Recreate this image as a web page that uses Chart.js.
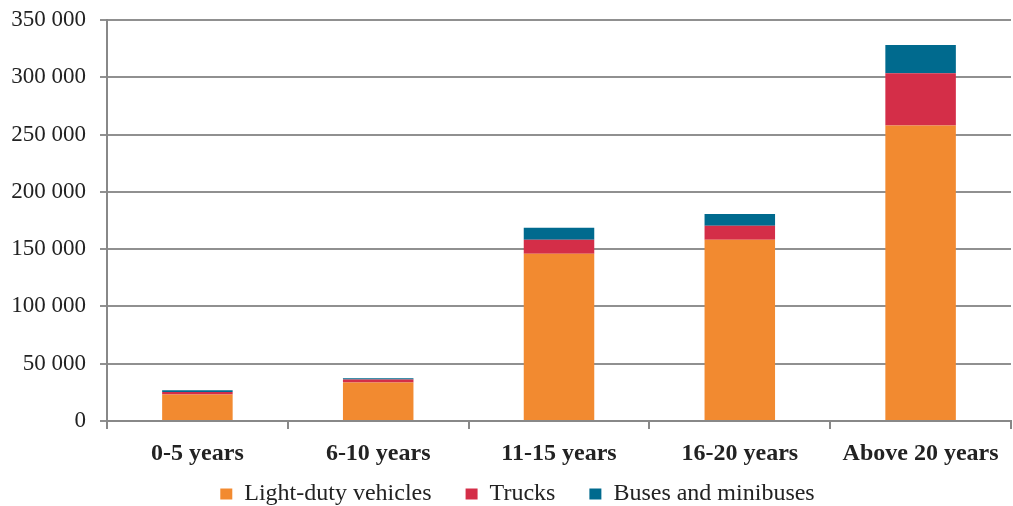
<!DOCTYPE html>
<html>
<head>
<meta charset="utf-8">
<script src="https://cdn.jsdelivr.net/npm/chart.js@4/dist/chart.umd.min.js"></script>
<style>
  html, body { margin: 0; padding: 0; background: #fff; }
  #wrap { width: 1013px; height: 506px; }
</style>
</head>
<body>
<div id="wrap"><canvas id="grafik"></canvas></div>
<script>
// Kategori umur kendaraan dan nilai tiap seri
var kategori = ["0-5 years", "6-10 years", "11-15 years", "16-20 years", "Above 20 years"];
var light_duty = [23100, 33600, 145900, 158100, 257900];
var trucks = [2300, 2600, 12200, 12300, 45700];
var buses = [1500, 1200, 10500, 10200, 24500];
var tick_y = [0, 50000, 100000, 150000, 200000, 250000, 300000, 350000];

var fontSerif = "'Liberation Serif', 'Times New Roman', serif";

// Legenda dibuat pendek lalu digeser, supaya label sumbu x tidak terpotong
const geserLegenda = {
  id: "geserLegenda",
  beforeInit: function (chart) {
    const lg = chart.legend;
    const fitAsli = lg.fit;
    lg.fit = function () {
      fitAsli.call(this);
      this.height = 35;
    };
  },
  afterLayout: function (chart) {
    const lg = chart.legend;
    lg.top = 448;
    lg.bottom = 506;
    lg.left += 12;
    lg.right += 12;
  },
};

const data = {
  labels: kategori,
  datasets: [
    { label: "Light-duty vehicles", data: light_duty, backgroundColor: "#F28A30" },
    { label: "Trucks", data: trucks, backgroundColor: "#D42E48" },
    { label: "Buses and minibuses", data: buses, backgroundColor: "#006A8E" },
  ],
};

const config = {
  type: "bar",
  data: data,
  plugins: [geserLegenda],
  options: {
    responsive: true,
    maintainAspectRatio: false,
    animation: false,
    layout: { padding: { top: 20, right: 2, left: 0, bottom: 0 } },
    datasets: { bar: { barPercentage: 0.78, categoryPercentage: 0.5 } },
    plugins: {
      tooltip: { enabled: false },
      legend: {
        position: "bottom",
        labels: {
          boxWidth: 12,
          boxHeight: 11,
          padding: 34,
          color: "#222",
          font: { family: fontSerif, size: 24 },
        },
      },
    },
    scales: {
      x: {
        stacked: true,
        afterFit: function (axis) { axis.height = 50; },
        grid: {
          offset: true,
          drawOnChartArea: false,
          color: "#888",
          tickLength: 8,
          lineWidth: 2,
        },
        border: { color: "#888", width: 2 },
        ticks: {
          color: "#222",
          padding: 10,
          font: { family: fontSerif, size: 24, weight: "bold" },
        },
      },
      y: {
        stacked: true,
        min: 0,
        max: 350000,
        afterFit: function (axis) {
          axis.width = 107;
          axis.paddingTop = 0;
          axis.paddingBottom = 0;
        },
        afterBuildTicks: function (axis) {
          axis.ticks = tick_y.map(function (v) { return { value: v }; });
        },
        grid: { color: "#909090", lineWidth: 2, tickLength: 7 },
        border: { color: "#888", width: 2 },
        ticks: {
          color: "#222",
          padding: 14,
          font: { family: fontSerif, size: 23 },
          callback: function (v) {
            return String(v).replace(/\B(?=(\d{3})+(?!\d))/g, " ");
          },
        },
      },
    },
  },
};

const grafik = document.getElementById("grafik").getContext("2d");
new Chart(grafik, config);
</script>
</body>
</html>
